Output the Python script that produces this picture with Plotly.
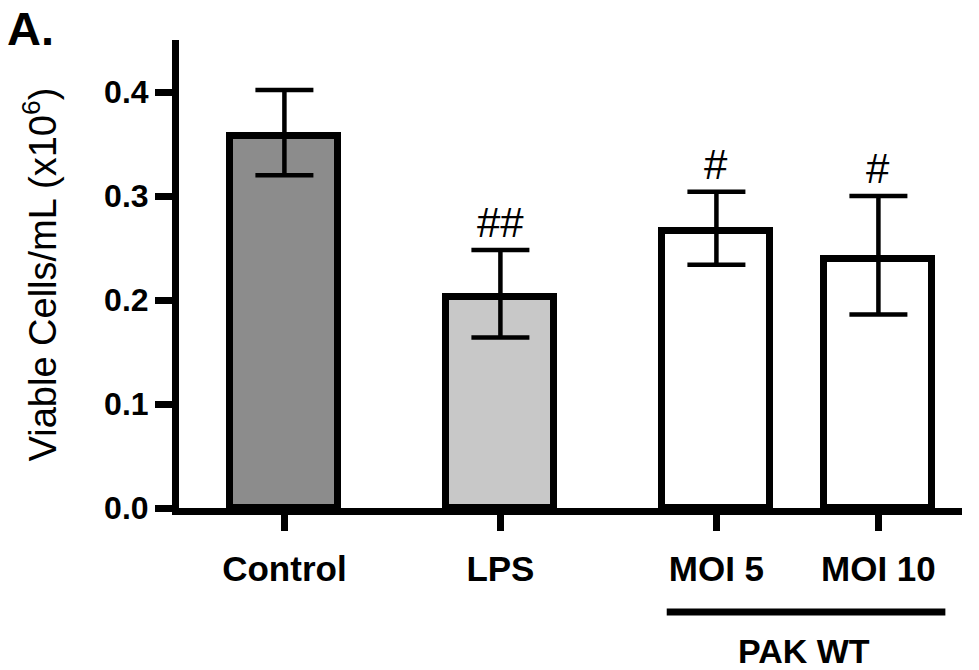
import plotly.graph_objects as go

# ---- data ----
categories = ["Control", "LPS", "MOI 5", "MOI 10"]
x_pos = [0, 1, 2, 2.75]
means = [0.358, 0.203, 0.266, 0.239]
err_upper = [0.044, 0.045, 0.038, 0.061]
err_lower = [0.038, 0.039, 0.032, 0.053]
bar_colors = ["#8c8c8c", "#c8c8c8", "#ffffff", "#ffffff"]
sig_marks = ["", "##", "#", "#"]
y_ticks = [0.0, 0.1, 0.2, 0.3, 0.4]
y_tick_labels = ["0.0", "0.1", "0.2", "0.3", "0.4"]
group_label = "PAK WT"

FONT = "Liberation Sans, Arial, Helvetica, sans-serif"

fig = go.Figure()
fig.add_trace(go.Bar(
    x=x_pos, y=means, width=0.5,
    marker=dict(color=bar_colors, line=dict(color="black", width=7)),
    error_y=dict(type="data", symmetric=False, array=err_upper, arrayminus=err_lower,
                 visible=True, color="black", thickness=4.5, width=29),
    showlegend=False,
))

annotations = []
for xp, m, e, s in zip(x_pos, means, err_upper, sig_marks):
    if s:
        annotations.append(dict(x=xp, y=m + e, xref="x", yref="y", text=s,
                                showarrow=False, yanchor="bottom", yshift=2,
                                font=dict(family=FONT, size=42, color="black")))

# group label
annotations.append(dict(x=(x_pos[2] + x_pos[3]) / 2 + 0.03, y=-0.305, xref="x", yref="paper",
                        text="<b>" + group_label + "</b>", showarrow=False,
                        yanchor="middle",
                        font=dict(family=FONT, size=34, color="black")))
# y title
annotations.append(dict(x=-0.177, y=0.5, xref="paper", yref="paper",
                        text="Viable Cells/mL (x10<sup>6</sup>)", textangle=-90,
                        showarrow=False, xanchor="center", yanchor="middle",
                        font=dict(family=FONT, size=38, color="black")))
# panel letter
annotations.append(dict(x=-0.221, y=1.083, xref="paper", yref="paper", text="<b>A.</b>",
                        showarrow=False, xanchor="left", yanchor="top", borderpad=0,
                        font=dict(family=FONT, size=47, color="black")))

fig.update_layout(
    width=979, height=670,
    margin=dict(l=179, r=17, t=40, b=162),
    paper_bgcolor="white", plot_bgcolor="white",
    bargap=0,
    annotations=annotations,
    shapes=[dict(type="line", xref="x", yref="paper",
                 x0=x_pos[2] - 0.23, x1=x_pos[3] + 0.31, y0=-0.222, y1=-0.222,
                 line=dict(color="black", width=7))],
    xaxis=dict(range=[-0.488, 3.137], tickmode="array", tickvals=x_pos,
               ticktext=["<b>" + c + "</b>" for c in categories],
               showline=True, linecolor="black", linewidth=7,
               ticks="outside", ticklen=16, tickwidth=7, tickcolor="black",
               ticklabelstandoff=8,
               showgrid=False, zeroline=False,
               tickfont=dict(family=FONT, size=35, color="black")),
    yaxis=dict(range=[0, 0.45], tickmode="array", tickvals=y_ticks,
               ticktext=["<b>" + t + "</b>" for t in y_tick_labels],
               showline=True, linecolor="black", linewidth=7,
               ticks="outside", ticklen=17, tickwidth=7, tickcolor="black",
               showgrid=False, zeroline=False,
               tickfont=dict(family=FONT, size=32, color="black")),
)

fig.write_html("out.html")
